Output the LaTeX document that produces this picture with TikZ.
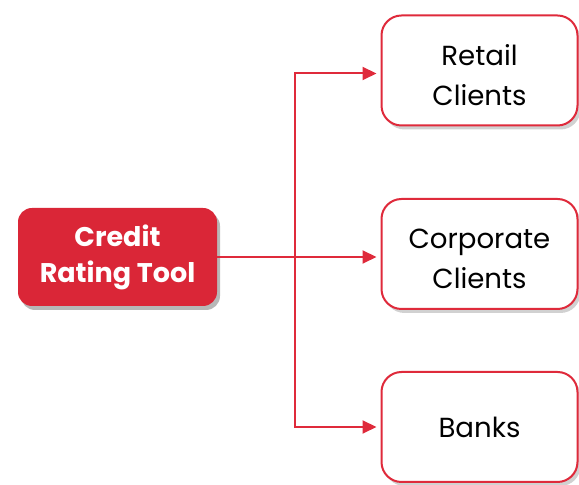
\documentclass[tikz,border=0pt]{standalone}
\usepackage{fontspec}
\setmainfont{Poppins}
\usetikzlibrary{shadows,arrows.meta}

\definecolor{toolred}{HTML}{DA2637}
\definecolor{linkred}{HTML}{DF2A3B}

% extra room above the first line of a two line label
\newcommand\toprowgap{\rule{0pt}{15pt}}

\begin{document}
\begin{tikzpicture}[x=0.5pt, y=-0.5pt,
    toolbox/.style={fill=toolred, rounded corners=7pt, minimum width=99.5pt,
        minimum height=49pt, align=center, text=white,
        font=\fontsize{13.5}{18}\selectfont\bfseries,
        drop shadow={shadow xshift=1.5pt, shadow yshift=-2pt, opacity=0.4, fill=black!70}},
    clientbox/.style={draw=linkred, line width=1pt, fill=white, rounded corners=10pt,
        minimum width=98pt, minimum height=55pt, align=center,
        font=\fontsize{13.8}{20}\selectfont,
        drop shadow={shadow xshift=1.5pt, shadow yshift=-2pt, opacity=0.3, fill=black!60}},
    link/.style={draw=linkred, line width=1pt, -{Triangle[length=7pt, width=6.5pt]}, shorten >=2pt}]

    % keep the page at the full size of the chart
    \useasboundingbox (0,0) rectangle (579,485);

    % the tool on the left
    \node[toolbox] (tool) at (117.5,257) {Credit\\Rating Tool};

    % the three kinds of clients on the right
    \foreach \name/\ypos/\label in {retail/70.5/\toprowgap Retail\\Clients,
                                    corp/254/\toprowgap Corporate\\Clients,
                                    banks/427/Banks} {
        \node[clientbox] (\name) at (479.5,\ypos) {\label};
    }

    % branch point of the connectors
    \coordinate (fork) at (295,257);

    \draw[link] (tool.east) -- (tool.east -| corp.west);
    \draw[link] (fork) |- ([yshift=-1.5pt]retail.west);
    \draw[link] (fork) |- (banks.west);

\end{tikzpicture}
\end{document}
